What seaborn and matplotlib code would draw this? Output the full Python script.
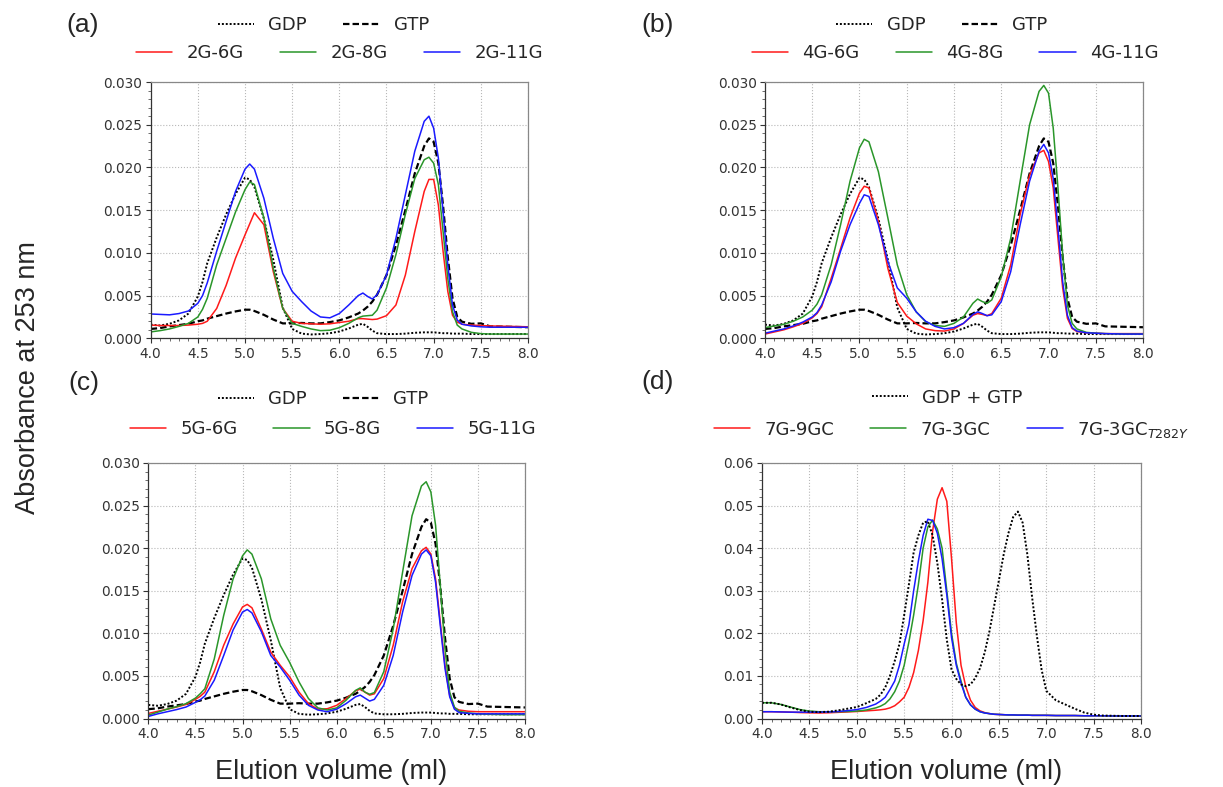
import matplotlib
matplotlib.use("Agg")
import matplotlib.pyplot as plt
import seaborn as sns
import numpy as np
from matplotlib.ticker import MultipleLocator, FormatStrFormatter

# absorbance values are written in units of 1e-3
SCALE = 1e-3

# shared elution grid for panels (a)-(c)
X_ABC = [4.0, 4.1, 4.2, 4.3, 4.4, 4.5, 4.55, 4.6, 4.7, 4.8,
         4.9, 5.0, 5.05, 5.1, 5.2, 5.3, 5.4, 5.5, 5.6, 5.7,
         5.8, 5.9, 6.0, 6.1, 6.2, 6.25, 6.3, 6.35, 6.4, 6.5,
         6.6, 6.7, 6.8, 6.9, 6.95, 7.0, 7.05, 7.1, 7.15, 7.2,
         7.25, 7.3, 7.4, 7.5, 7.6, 7.8, 8.0]

GDP = [1.6, 1.5, 1.7, 2.1, 2.9, 4.9, 6.6, 8.8, 11.8, 14.5,
       16.9, 18.8, 18.6, 17.7, 14.0, 9.2, 3.6, 1.1, 0.55, 0.45,
       0.5, 0.6, 0.8, 1.15, 1.6, 1.7, 1.35, 0.9, 0.6, 0.5,
       0.5, 0.55, 0.65, 0.7, 0.7, 0.7, 0.65, 0.6, 0.6, 0.55,
       0.55, 0.55, 0.5, 0.5, 0.5, 0.5, 0.5]
GTP = [1.1, 1.2, 1.4, 1.55, 1.7, 2.0, 2.1, 2.3, 2.6, 2.9,
       3.15, 3.35, 3.35, 3.2, 2.75, 2.2, 1.75, 1.75, 1.8, 1.75,
       1.75, 1.9, 2.1, 2.45, 2.9, 3.25, 3.7, 4.3, 5.1, 7.4,
       10.9, 15.0, 19.3, 22.5, 23.4, 23.0, 20.5, 15.5, 9.5, 4.7,
       2.5, 1.95, 1.7, 1.75, 1.4, 1.35, 1.3]

A_6G = [1.55, 1.5, 1.5, 1.5, 1.55, 1.65, 1.75, 2.0, 3.5, 6.2,
        9.4, 12.1, 13.4, 14.7, 13.3, 7.8, 3.5, 2.0, 1.75, 1.7,
        1.65, 1.7, 1.85, 2.0, 2.3, 2.3, 2.25, 2.2, 2.25, 2.65,
        3.9, 7.4, 12.5, 17.2, 18.6, 18.6, 15.6, 10.2, 5.5, 2.7,
        1.9, 1.65, 1.55, 1.5, 1.45, 1.4, 1.35]
A_8G = [0.75, 0.9, 1.1, 1.4, 1.75, 2.5, 3.4, 4.7, 8.6, 11.7,
        14.8, 17.4, 18.3, 18.0, 14.1, 8.2, 3.5, 1.75, 1.4, 1.1,
        0.9, 0.95, 1.25, 1.75, 2.4, 2.6, 2.65, 2.7, 3.3, 5.9,
        9.8, 14.5, 18.7, 20.9, 21.2, 20.5, 18.0, 12.5, 7.0, 3.1,
        1.55, 1.1, 0.7, 0.55, 0.5, 0.5, 0.5]
A_11G = [2.85, 2.8, 2.75, 2.9, 3.2, 4.1, 5.0, 6.5, 10.2, 13.7,
         17.2, 19.8, 20.4, 19.8, 16.4, 11.7, 7.6, 5.5, 4.3, 3.2,
         2.5, 2.4, 2.9, 3.9, 5.0, 5.3, 4.9, 4.6, 5.1, 7.4,
         11.7, 16.8, 21.9, 25.4, 26.0, 24.6, 21.1, 14.8, 8.6, 3.9,
         2.15, 1.65, 1.45, 1.35, 1.3, 1.3, 1.3]

B_6G = [0.5, 0.75, 1.0, 1.35, 1.75, 2.4, 2.9, 3.7, 7.0, 10.5,
        14.1, 17.0, 17.8, 17.6, 13.7, 8.2, 4.2, 2.6, 1.7, 1.1,
        0.9, 0.85, 1.1, 1.75, 2.7, 2.9, 2.8, 2.65, 2.9, 4.7,
        8.6, 14.5, 19.1, 21.7, 22.0, 20.7, 17.6, 11.7, 5.9, 2.35,
        1.15, 0.8, 0.65, 0.6, 0.55, 0.55, 0.55]
B_8G = [1.25, 1.45, 1.65, 2.0, 2.5, 3.3, 4.0, 5.1, 8.6, 13.3,
        18.4, 22.3, 23.3, 23.0, 19.5, 14.1, 8.6, 5.1, 3.1, 1.95,
        1.5, 1.4, 1.75, 2.5, 4.1, 4.6, 4.3, 4.1, 4.5, 7.2,
        11.7, 18.4, 25.0, 28.9, 29.6, 28.7, 24.6, 17.6, 9.8, 3.9,
        1.75, 1.1, 0.7, 0.6, 0.55, 0.5, 0.5]
B_11G = [0.6, 0.85, 1.1, 1.45, 1.9, 2.5, 3.0, 3.9, 6.6, 10.2,
         13.3, 15.8, 16.8, 16.6, 13.3, 9.0, 5.9, 4.7, 3.1, 2.0,
         1.4, 1.1, 1.25, 1.75, 2.8, 3.1, 2.9, 2.65, 2.75, 4.3,
         7.8, 13.3, 18.4, 21.9, 22.7, 21.7, 18.7, 12.9, 6.6, 2.7,
         1.25, 0.85, 0.65, 0.6, 0.55, 0.5, 0.5]

C_6G = [0.6, 0.85, 1.1, 1.35, 1.65, 2.25, 2.6, 3.1, 5.5, 8.6,
        11.1, 13.1, 13.4, 13.0, 10.5, 7.8, 6.25, 4.9, 3.1, 1.75,
        1.1, 1.15, 1.55, 2.35, 3.25, 3.45, 3.1, 2.75, 2.9, 4.7,
        8.6, 13.7, 17.6, 19.7, 20.1, 19.3, 16.4, 11.3, 6.25, 2.7,
        1.25, 1.0, 0.85, 0.8, 0.8, 0.8, 0.8]
C_8G = [0.4, 0.75, 1.1, 1.4, 1.75, 2.4, 2.9, 3.5, 7.0, 12.1,
        16.4, 19.1, 19.8, 19.3, 16.4, 11.7, 8.6, 6.6, 4.3, 2.35,
        1.25, 1.0, 1.25, 2.15, 3.3, 3.6, 3.1, 2.85, 3.05, 5.5,
        10.5, 17.2, 23.8, 27.3, 27.8, 26.6, 22.7, 15.6, 8.2, 3.1,
        1.35, 0.85, 0.65, 0.55, 0.5, 0.45, 0.45]
C_11G = [0.25, 0.55, 0.8, 1.05, 1.35, 1.9, 2.2, 2.65, 4.5, 7.4,
         10.4, 12.5, 12.8, 12.4, 10.2, 7.4, 6.05, 4.5, 2.75, 1.55,
         1.0, 0.8, 1.1, 1.75, 2.55, 2.75, 2.4, 2.05, 2.25, 3.9,
         7.4, 12.5, 16.8, 19.3, 19.8, 19.1, 16.0, 10.9, 5.9, 2.55,
         1.1, 0.7, 0.6, 0.55, 0.55, 0.55, 0.55]

# panel (d) grid
X_D = [4.0, 4.1, 4.2, 4.3, 4.4, 4.5, 4.6, 4.7, 4.8, 4.9,
       5.0, 5.1, 5.2, 5.25, 5.3, 5.35, 5.4, 5.45, 5.5, 5.55,
       5.6, 5.65, 5.7, 5.75, 5.8, 5.85, 5.9, 5.95, 6.0, 6.05,
       6.1, 6.15, 6.2, 6.25, 6.3, 6.35, 6.4, 6.45, 6.5, 6.55,
       6.6, 6.65, 6.7, 6.75, 6.8, 6.85, 6.9, 6.95, 7.0, 7.1,
       7.2, 7.3, 7.4, 7.5, 7.6, 7.7, 7.8, 7.9, 8.0]

D_MIX = [3.7, 3.7, 3.3, 2.6, 2.0, 1.6, 1.5, 1.6, 1.9, 2.3,
         2.7, 3.6, 4.6, 5.6, 7.3, 10.0, 13.5, 17.5, 24.3, 31.5,
         39.0, 43.0, 46.0, 46.3, 43.0, 36.5, 28.0, 18.5, 11.5, 9.3,
         8.0, 7.6, 8.0, 9.5, 11.8, 15.5, 20.5, 26.5, 32.5, 38.5,
         43.5, 47.3, 48.6, 46.0, 38.5, 28.5, 19.5, 11.5, 6.5, 4.3,
         3.3, 2.3, 1.4, 0.9, 0.7, 0.65, 0.6, 0.6, 0.6]
# common baseline of the three proteins after 6.4 ml
D_TAIL = [1.15, 1.0, 0.95, 0.9, 0.85, 0.85, 0.8, 0.8, 0.8, 0.75,
          0.75, 0.75, 0.75, 0.7, 0.7, 0.7, 0.65, 0.65, 0.65, 0.6,
          0.6, 0.6, 0.6]
D_9GC = [1.6, 1.6, 1.55, 1.5, 1.4, 1.35, 1.3, 1.35, 1.45, 1.55,
         1.65, 1.8, 1.95, 2.05, 2.2, 2.5, 3.0, 3.9, 5.0, 7.3,
         10.8, 16.0, 23.0, 32.0, 44.0, 51.5, 54.2, 51.0, 37.5, 22.5,
         12.5, 7.5, 4.3, 2.6, 1.8, 1.4] + D_TAIL
D_3GC = [3.7, 3.7, 3.3, 2.7, 2.1, 1.75, 1.6, 1.6, 1.6, 1.65,
         1.75, 2.0, 2.5, 2.9, 3.5, 4.6, 6.3, 8.8, 12.5, 18.0,
         24.3, 31.5, 40.0, 45.0, 46.6, 44.5, 40.0, 30.0, 20.0, 13.0,
         8.8, 5.0, 3.2, 2.2, 1.6, 1.3] + D_TAIL
D_T282Y = [1.6, 1.6, 1.55, 1.5, 1.5, 1.5, 1.5, 1.55, 1.65, 1.85,
           2.1, 2.6, 3.4, 4.1, 5.0, 6.8, 8.8, 12.5, 17.5, 22.0,
           30.0, 37.0, 43.0, 46.8, 46.5, 43.5, 37.5, 29.0, 19.0, 12.5,
           8.3, 5.0, 3.2, 2.2, 1.6, 1.3] + D_TAIL

RED, GREEN, BLUE = "#ff1a1a", "#2a962a", "#1a1aff"
DOT = (0, (1, 1))
DASH = (0, (2.9, 1.4))

sns.set_theme(style="ticks")
plt.rcParams["font.family"] = ["DejaVu Sans"]
LABEL_FONT = ["Liberation Sans", "DejaVu Sans"]


def add_line(ax, x, y, color, ls, lw, label):
    sns.lineplot(x=x, y=np.array(y) * SCALE, ax=ax, color=color, linestyle=ls,
                 linewidth=lw, label=label, legend=False, sort=False, estimator=None)
    return ax.get_lines()[-1]


def style_axes(ax, ymax, ystep, yminor, fmt):
    ax.set_xlim(4.0, 8.0)
    ax.set_ylim(0, ymax)
    ax.xaxis.set_major_locator(MultipleLocator(0.5))
    ax.xaxis.set_minor_locator(MultipleLocator(0.1))
    ax.yaxis.set_major_locator(MultipleLocator(ystep))
    ax.yaxis.set_minor_locator(MultipleLocator(yminor))
    ax.xaxis.set_major_formatter(FormatStrFormatter("%.1f"))
    ax.yaxis.set_major_formatter(FormatStrFormatter(fmt))
    ax.grid(True, which="major", linestyle=":", color="#b8b8b8", linewidth=0.8)
    ax.tick_params(which="major", length=3.5, width=0.8, labelsize=9.8,
                   colors="#333333", pad=2.5)
    ax.tick_params(which="minor", length=2, width=0.6, colors="#555555")
    ax.set_xlabel("")
    ax.set_ylabel("")
    for side in ["left", "bottom"]:
        ax.spines[side].set_color("#333333")
    for side in ["top", "right"]:
        ax.spines[side].set_color("#888888")
    for sp in ax.spines.values():
        sp.set_linewidth(0.9)


def add_legends(ax, top_handles, bottom_handles, pos1, pos2):
    kw = dict(loc="center", frameon=False, fontsize=13, handlelength=2.0,
              handletextpad=0.8, columnspacing=2.0, borderaxespad=0)
    leg1 = ax.legend(handles=top_handles, ncol=len(top_handles),
                     bbox_to_anchor=pos1, **kw)
    ax.add_artist(leg1)
    ax.legend(handles=bottom_handles, ncol=len(bottom_handles),
              bbox_to_anchor=pos2, **kw)


fig = plt.figure(figsize=(12.23, 7.87), dpi=100)

panels = [
    ([0.1232, 0.5701, 0.3085, 0.3257], (A_6G, A_8G, A_11G),
     ("2G-6G", "2G-8G", "2G-11G"), (0.458, 1.222), (0.50, 1.113)),
    ([0.6255, 0.5701, 0.3091, 0.3257], (B_6G, B_8G, B_11G),
     ("4G-6G", "4G-8G", "4G-11G"), (0.468, 1.222), (0.503, 1.113)),
    ([0.1213, 0.0870, 0.3080, 0.3247], (C_6G, C_8G, C_11G),
     ("5G-6G", "5G-8G", "5G-11G"), (0.464, 1.250), (0.49, 1.133)),
]

for rect, curves, names, pos1, pos2 in panels:
    ax = fig.add_axes(rect)
    l_gdp = add_line(ax, X_ABC, GDP, "black", DOT, 1.4, "GDP")
    l_gtp = add_line(ax, X_ABC, GTP, "black", DASH, 1.6, "GTP")
    cols = []
    for y, name, c in zip(curves, names, (RED, GREEN, BLUE)):
        cols.append(add_line(ax, X_ABC, y, c, "-", 1.1, name))
    style_axes(ax, 0.030, 0.005, 0.001, "%.3f")
    add_legends(ax, [l_gdp, l_gtp], cols, pos1, pos2)

ax = fig.add_axes([0.6231, 0.0870, 0.3099, 0.3247])
cols = []
for y, name, c in zip((D_9GC, D_3GC, D_T282Y),
                      ("7G-9GC", "7G-3GC", "7G-3GC$_{T282Y}$"), (RED, GREEN, BLUE)):
    cols.append(add_line(ax, X_D, y, c, "-", 1.1, name))
l_mix = add_line(ax, X_D, D_MIX, "black", DOT, 1.4, "GDP + GTP")
style_axes(ax, 0.06, 0.01, 0.002, "%.2f")
add_legends(ax, [l_mix], cols, (0.488, 1.256), (0.50, 1.130))

# panel letters and shared axis labels
for letter, px, py in [("(a)", 66, 25), ("(b)", 641, 25), ("(c)", 68, 383), ("(d)", 641, 382)]:
    fig.text(px / 1223, 1 - py / 787, letter, fontsize=19, family=LABEL_FONT,
             ha="left", va="center")
fig.text(28 / 1223, 1 - 378 / 787, "Absorbance at 253 nm", fontsize=19.5,
         family=LABEL_FONT, rotation=90, ha="center", va="center")
for px in (331, 946):
    fig.text(px / 1223, 1 - 772 / 787, "Elution volume (ml)", fontsize=19.5,
             family=LABEL_FONT, ha="center", va="center")

fig.savefig("out.png", dpi=100)
